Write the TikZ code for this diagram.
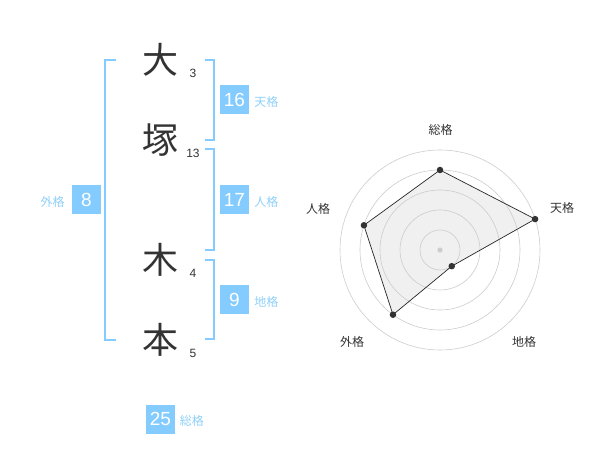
\documentclass[tikz,border=0pt]{standalone}
\usepackage{fontspec}
\setmainfont{Liberation Sans}
\newfontfamily\jp{Noto Sans CJK JP}
\usetikzlibrary{calc}

\definecolor{kakublue}{HTML}{84CCFF}
\definecolor{labelblue}{HTML}{8FD0F8}
\definecolor{inkgray}{HTML}{333333}
\definecolor{ringgray}{HTML}{CCCCCC}
\definecolor{areagray}{HTML}{F0F0F0}

\begin{document}
\begin{tikzpicture}[x=1pt,y=-1pt]

 \tikzset{
    kanji/.style={text=inkgray, font=\jp\fontsize{36}{36}\selectfont, inner sep=0pt},
    stroke/.style={text=inkgray, font=\fontsize{12}{12}\selectfont, inner sep=0pt},
    kakubox/.style={fill=kakublue, text=white, minimum size=29pt, inner sep=0pt,
      font=\fontsize{19}{19}\selectfont},
    kakulabel/.style={text=labelblue, font=\jp\fontsize{12}{12}\selectfont, inner sep=0pt},
    bracket/.style={draw=kakublue, line width=2pt},
    ring/.style={draw=ringgray, line width=0.6pt},
    dot/.style={circle, fill=inkgray, minimum size=6.5pt, inner sep=0pt},
    axislabel/.style={text=inkgray, font=\jp\fontsize{12}{12}\selectfont, inner sep=0pt}
  }

\useasboundingbox (0,0) rectangle (600,470);

% name and strokes
\foreach \c/\n/\yy [count=\i] in {大/3/60, 塚/13/140, 木/4/260, 本/5/340} {
    \node[kanji] (char\i) at (160,\yy) {\c};
    \node[stroke] (num\i) at (193,\yy+13) {\n};
}

\draw[bracket] (116,60) -- (105,60) -- (105,340) -- (116,340);
\draw[bracket] (205,60) -- (214,60) -- (214,140) -- (205,140);
\draw[bracket] (205,149) -- (214,149) -- (214,250) -- (205,250);
\draw[bracket] (205,260) -- (214,260) -- (214,339) -- (205,339);

\node[kakubox] (ten) at (234.5,100) {16};
\node[kakubox] (jin) at (234.5,200) {17};
\node[kakubox] (chi) at (234.5,300) {9};
\node[kakubox] (gai) at (86.5,200) {8};
\node[kakubox] (sou) at (160.5,419) {25};

\node[kakulabel, anchor=base west] (tenlbl) at ([xshift=5pt]ten.base east) {天格};
\node[kakulabel, anchor=base west] (jinlbl) at ([xshift=5pt]jin.base east) {人格};
\node[kakulabel, anchor=base west] (chilbl) at ([xshift=5pt]chi.base east) {地格};
\node[kakulabel, anchor=base east] (gailbl) at ([xshift=-7pt]gai.base west) {外格};
\node[kakulabel, anchor=base west] (soulbl) at ([xshift=4.5pt]sou.base east) {総格};

% radar
\begin{scope}[shift={(440,250)}, y=1pt]
    \foreach \a/\v/\nm in {90/4/sou, 18/5/ten, -54/1/chi, -126/4/gai, 162/4/jin}
        \coordinate (v\nm) at (\a:\v*20pt);
    \fill[areagray] (vsou) -- (vten) -- (vchi) -- (vgai) -- (vjin) -- cycle;
    \foreach \r in {20,40,...,100}
        \draw[ring] (0,0) circle (\r pt);
    \fill[ringgray] (0,0) circle (2.6pt);
    \draw[line width=0.7pt, black!85] (vsou) -- (vten) -- (vchi) -- (vgai) -- (vjin) -- cycle;
    \foreach \nm in {sou, ten, chi, gai, jin}
        \node[dot] (d\nm) at (v\nm) {};
\end{scope}

\node[axislabel] (axsou) at (440.7,130) {総格};
\node[axislabel] (axten) at (562,208) {天格};
\node[axislabel] (axjin) at (318,209) {人格};
\node[axislabel] (axgai) at (352,342) {外格};
\node[axislabel] (axchi) at (524,342) {地格};

\end{tikzpicture}
\end{document}
